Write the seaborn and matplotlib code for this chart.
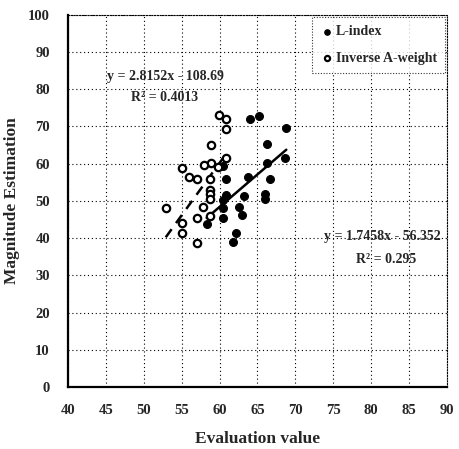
import numpy as np
import pandas as pd
import matplotlib
matplotlib.use("Agg")
import matplotlib.pyplot as plt
import seaborn as sns

# L-index (filled circles)
l_x = [64.0, 65.2, 68.8, 66.3, 68.6, 66.3, 60.5, 66.6, 63.7, 60.8, 63.2, 66.0,
       66.0, 60.4, 60.8, 62.5, 60.4, 62.9, 60.4, 58.3, 62.2, 61.8]
l_y = [72.0, 72.9, 69.5, 65.2, 61.6, 60.3, 59.3, 55.9, 56.5, 55.9, 51.2, 51.8,
       50.5, 50.3, 51.5, 48.5, 48.0, 46.2, 45.3, 43.7, 41.5, 38.9]
# Inverse A-weight (open circles)
a_x = [59.9, 60.9, 60.8, 58.9, 60.8, 58.9, 57.9, 59.8, 55.0, 56.0, 57.0, 58.8,
       58.7, 58.7, 58.7, 52.9, 57.8, 58.8, 57.0, 55.0, 55.0, 57.0]
a_y = [73.1, 72.0, 69.4, 65.1, 61.6, 60.1, 59.7, 59.1, 58.8, 56.5, 55.9, 55.8,
       53.0, 51.8, 50.5, 48.2, 48.5, 46.0, 45.3, 44.0, 41.3, 38.6]

# trendline coefficients (slope, intercept) as printed
l_fit = [1.7458, -56.352]
a_fit = [2.8152, -108.69]

x_ticks = list(range(40, 91, 5))
y_ticks = list(range(0, 101, 10))

sns.set_theme(style="white")
plt.rcParams['font.family'] = ['Liberation Serif', 'DejaVu Serif']
plt.rcParams['font.weight'] = 'bold'

fig = plt.figure(figsize=(4.59, 4.49), dpi=100)
ax = fig.add_axes([0.148, 0.138, 0.826, 0.829])

df_l = pd.DataFrame({"x": l_x, "y": l_y})
df_a = pd.DataFrame({"x": a_x, "y": a_y})

# fit lines over each series' x range
lx = np.array([min(l_x), max(l_x)])
ax_ = np.array([min(a_x), max(a_x)])
sns.lineplot(x=lx, y=l_fit[0] * lx + l_fit[1], ax=ax, color="black", lw=1.8, zorder=3)
sns.lineplot(x=ax_, y=a_fit[0] * ax_ + a_fit[1], ax=ax, color="black", lw=1.8,
             linestyle=(0, (4, 3)), zorder=3)

sns.scatterplot(data=df_l, x="x", y="y", ax=ax, color="black", s=32,
                edgecolor="black", linewidth=0.8, zorder=4, label="L-index")
sns.scatterplot(data=df_a, x="x", y="y", ax=ax, facecolor="white", s=28,
                edgecolor="black", linewidth=1.6, zorder=5, label="Inverse A-weight")

ax.set_xlim(40, 90)
ax.set_ylim(0, 100)
ax.set_xticks(x_ticks)
ax.set_yticks(y_ticks)
ax.set_xticklabels([str(t) for t in x_ticks], fontsize=10.5, fontweight='bold')
ax.set_yticklabels([str(t) for t in y_ticks], fontsize=10.5, fontweight='bold')
ax.tick_params(axis='x', pad=12, length=0)
ax.tick_params(axis='y', pad=13, length=0)
ax.grid(True, color="black", linestyle=(0, (1, 2.5)), linewidth=0.8)

for side in ["left", "bottom"]:
    ax.spines[side].set_color("black")
    ax.spines[side].set_linewidth(1.6)
for side in ["top", "right"]:
    ax.spines[side].set_color("black")
    ax.spines[side].set_linewidth(0.8)
    ax.spines[side].set_linestyle((0, (1, 1.5)))

ax.set_xlabel("Evaluation value", fontsize=12.5, fontweight='bold', labelpad=10)
ax.set_ylabel("Magnitude Estimation", fontsize=12.5, fontweight='bold', labelpad=6)

ax.text(52.8, 83.5, "y = 2.8152x - 108.69", fontsize=10, fontweight='bold', ha='center', va='center')
ax.text(52.8, 77.8, "R² = 0.4013", fontsize=10, fontweight='bold', ha='center', va='center')
ax.text(81.5, 40.4, "y = 1.7458x - 56.352", fontsize=10, fontweight='bold', ha='center', va='center')
ax.text(82.0, 34.3, "R² = 0.295", fontsize=10, fontweight='bold', ha='center', va='center')

leg = ax.legend(loc="upper right", fontsize=10, frameon=True, fancybox=False,
                borderpad=0.6, labelspacing=1.0, handletextpad=0.1, handlelength=1.0,
                markerscale=0.7, borderaxespad=0.15)
leg.get_frame().set_edgecolor("black")
leg.get_frame().set_linestyle((0, (1, 1.5)))
leg.get_frame().set_linewidth(0.8)
for t in leg.get_texts():
    t.set_fontweight('bold')

fig.savefig("out.png", dpi=100)
